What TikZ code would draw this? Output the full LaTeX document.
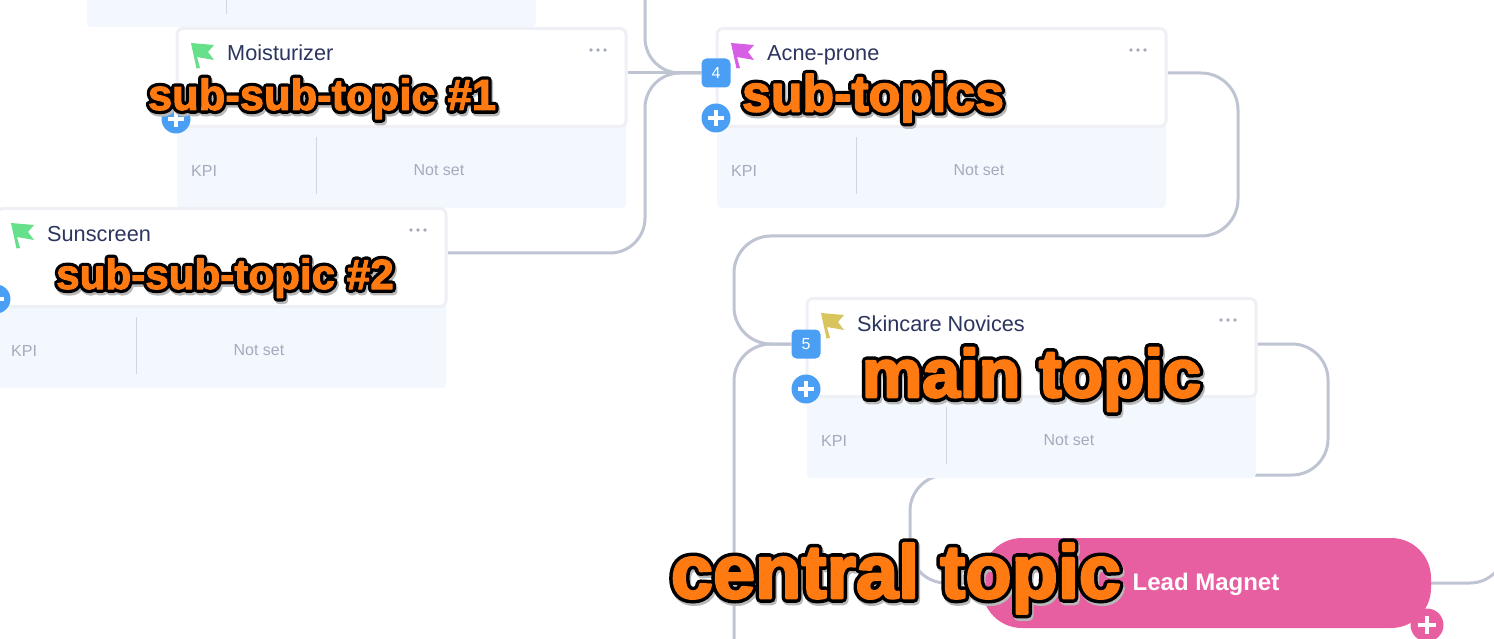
\documentclass[tikz,border=0pt]{standalone}
\usepackage{fontspec}
\setmainfont{Liberation Sans}
\pgfdeclarelayer{connlayer}
\pgfsetlayers{connlayer,main}
\definecolor{linec}{HTML}{BFC4D3}
\definecolor{cardb}{HTML}{EEF0F6}
\definecolor{panelc}{HTML}{F2F8FE}
\definecolor{divc}{HTML}{D2D6DE}
\definecolor{titlec}{HTML}{2C3560}
\definecolor{mutedc}{HTML}{A5ABBD}
\definecolor{bluec}{HTML}{4A9FF5}
\definecolor{pinkc}{HTML}{E85FA1}
\definecolor{lblc}{HTML}{FF7B12}
\definecolor{greenf}{HTML}{66E08A}
\definecolor{magf}{HTML}{D75FE6}
\definecolor{yellowf}{HTML}{D9C55E}
\newcommand\fsz[1]{\fontsize{#1}{#1}\selectfont}
% #1 outer stroke, #2 inner stroke, #3 text
\newcommand\outl[3]{\leavevmode
 \rlap{\raisebox{-2.5pt}{\hspace{1.5pt}\color{gray}\special{pdf:code 0.72 0.72 0.72 RG #1 w 1 j 2 Tr}#3\special{pdf:code 0 Tr}}}%
 \rlap{\color{black}\special{pdf:code 0 0 0 RG #1 w 1 j 2 Tr}#3\special{pdf:code 0 Tr}}%
 {\color{lblc}\special{pdf:code 1 0.482 0.071 RG #2 w 1 j 2 Tr}#3\special{pdf:code 0 Tr}}}
\newcommand\flagat[3]{\fill[#3,shift={(#1,#2)}] (0,0) -- (23,2) -- (17,9) -- (23,17) -- (6,14) -- (9,25) -- (5.5,25.5) -- cycle;}
\newcommand\dotsat[2]{\foreach \dx in {-7,0,7} \fill[mutedc] (#1+\dx,#2) circle (1.8);}
\newcommand\plusglyph[4]{\draw[white,line width=#4,shift={(#1,#2)}] (-#3,0) -- (#3,0) (0,-#3) -- (0,#3);}
\tikzset{
 conn/.style={draw=linec,line width=3pt},
 panel/.style={fill=panelc,draw=none,rectangle,rounded corners=4pt,minimum width=449pt,minimum height=90pt,inner sep=0pt},
 card/.style={fill=white,draw=cardb,line width=3pt,rectangle,rounded corners=6pt,minimum width=449pt,minimum height=98pt,inner sep=0pt},
 title/.style={anchor=base west,inner sep=0pt,text=titlec,font=\fsz{21.7}},
 muted/.style={inner sep=0pt,text=mutedc,font=\fsz{16}},
 dividerl/.style={draw=divc,line width=1pt},
 badge/.style={fill=bluec,text=white,rectangle,rounded corners=5pt,minimum width=29pt,minimum height=29pt,inner sep=0pt,font=\fsz{16}},
 plusb/.style={fill=bluec,circle,minimum size=29pt,inner sep=0pt},
 lead/.style={fill=pinkc,rectangle,rounded corners=40pt,minimum width=449pt,minimum height=90pt,inner sep=0pt},
 plusp/.style={fill=pinkc,circle,minimum size=33pt,inner sep=0pt},
 biglabel/.style={inner sep=0pt,anchor=base,font=\bfseries}
}
\begin{document}
\begin{tikzpicture}[x=1pt,y=-1pt]
\useasboundingbox (0,0) rectangle (1494,639);
\coordinate (topin) at (645,-3);
\coordinate (botout) at (734,642);
\coordinate (rightout) at (1505,530);
% top panel
\node[panel] (topP) at (311.5,-18) {};
\draw[dividerl] (226.5,0) -- (226.5,14);
% Moisturizer
\node[panel] (moisP) at (401.5,163) {};
\node[card] (mois) at (401.5,77.5) {};
\draw[dividerl] (316.5,137) -- (316.5,194);
\flagat{191}{43}{greenf}
\node[title] (moisT) at (227,61) {Moisturizer};
\dotsat{598}{50}
\node[muted,anchor=west] (moisK) at (191,170.5) {KPI};
\node[muted] (moisN) at (439,170.5) {Not set};
\node[plusb] (moisPlus) at (176,119) {};
\plusglyph{176}{119}{8}{3.5pt}
% Sunscreen
\node[panel] (sunP) at (221.5,343) {};
\node[card] (sun) at (221.5,257.5) {};
\draw[dividerl] (136.5,317) -- (136.5,374);
\flagat{11}{223}{greenf}
\node[title] (sunT) at (47,241) {Sunscreen};
\dotsat{418}{230}
\node[muted,anchor=west] (sunK) at (11,350.5) {KPI};
\node[muted] (sunN) at (259,350.5) {Not set};
\node[plusb] (sunPlus) at (-4,299) {};
\plusglyph{-4}{299}{8}{3.5pt}
% Acne-prone
\node[panel] (acneP) at (941.5,163) {};
\node[card] (acne) at (941.5,77.5) {};
\draw[dividerl] (856.5,137) -- (856.5,194);
\flagat{731}{43}{magf}
\node[title] (acneT) at (767,61) {Acne-prone};
\dotsat{1138}{50}
\node[muted,anchor=west] (acneK) at (731,170.5) {KPI};
\node[muted] (acneN) at (979,170.5) {Not set};
\node[badge] (b4) at (716,73) {4};
\node[plusb] (acnePlus) at (716,118) {};
\plusglyph{716}{118}{8}{3.5pt}
% Skincare Novices
\node[panel] (skinP) at (1031.5,433) {};
\node[card] (skin) at (1031.5,347.5) {};
\draw[dividerl] (946.5,407) -- (946.5,464);
\flagat{821}{313}{yellowf}
\node[title] (skinT) at (857,331) {Skincare Novices};
\dotsat{1228}{320}
\node[muted,anchor=west] (skinK) at (821,440.5) {KPI};
\node[muted] (skinN) at (1069,440.5) {Not set};
\node[badge] (b5) at (806,344) {5};
\node[plusb] (skinPlus) at (806,389) {};
\plusglyph{806}{389}{8}{3.5pt}
% Lead Magnet
\node[lead] (leadN) at (1206.5,583) {};
\flagat{1021}{571}{white}
\node[inner sep=0pt,text=white,font=\bfseries\fsz{24}] (leadT) at (1206,584) {Lead Magnet};
\node[plusp] (leadPlus) at (1427,625) {};
\plusglyph{1427}{625}{9}{3.5pt}
% connectors
\begin{pgfonlayer}{connlayer}
\draw[conn] (b4 -| mois.east) -- (b4);
\draw[conn,rounded corners=35pt] (topin) -- (topin |- b4) -- (b4);
\draw[conn,rounded corners=35pt] (sun.east |- 0,253) -- (topin |- 0,253) -- (topin |- b4) -- (b4);
\draw[conn,rounded corners=37pt] (b4 -| acne.east) -- (1238,73) -- (1238,236) -- (734,236) -- (734,344) -- (b5);
\draw[conn,rounded corners=37pt] (b5) -- (botout |- b5) -- (botout);
\draw[conn,rounded corners=36pt] (b5 -| skin.east) -- (1328,344) -- (1328,475) -- (910,475) -- (910,583) -- (leadN.west);
\draw[conn,rounded corners=35pt] (leadN.east) -- (rightout |- leadN.east) -- (rightout);
\end{pgfonlayer}
% overlay labels
\node[biglabel] (l1) at (322,110) {\fsz{43.5}\outl{7.5}{1}{sub-sub-topic \#1}};
\node[biglabel] (l2) at (225,289) {\fsz{42.2}\outl{7.5}{1}{sub-sub-topic \#2}};
\node[biglabel] (l3) at (873,111.5) {\fsz{51.8}\outl{8}{1.5}{sub-topics}};
\node[biglabel] (l4) at (1031.5,397) {\fsz{67.8}\outl{9.5}{2.5}{main topic}};
\node[biglabel] (l5) at (896,598) {\fsz{75.7}\outl{9.5}{2.5}{central topic}};
\end{tikzpicture}
\end{document}
